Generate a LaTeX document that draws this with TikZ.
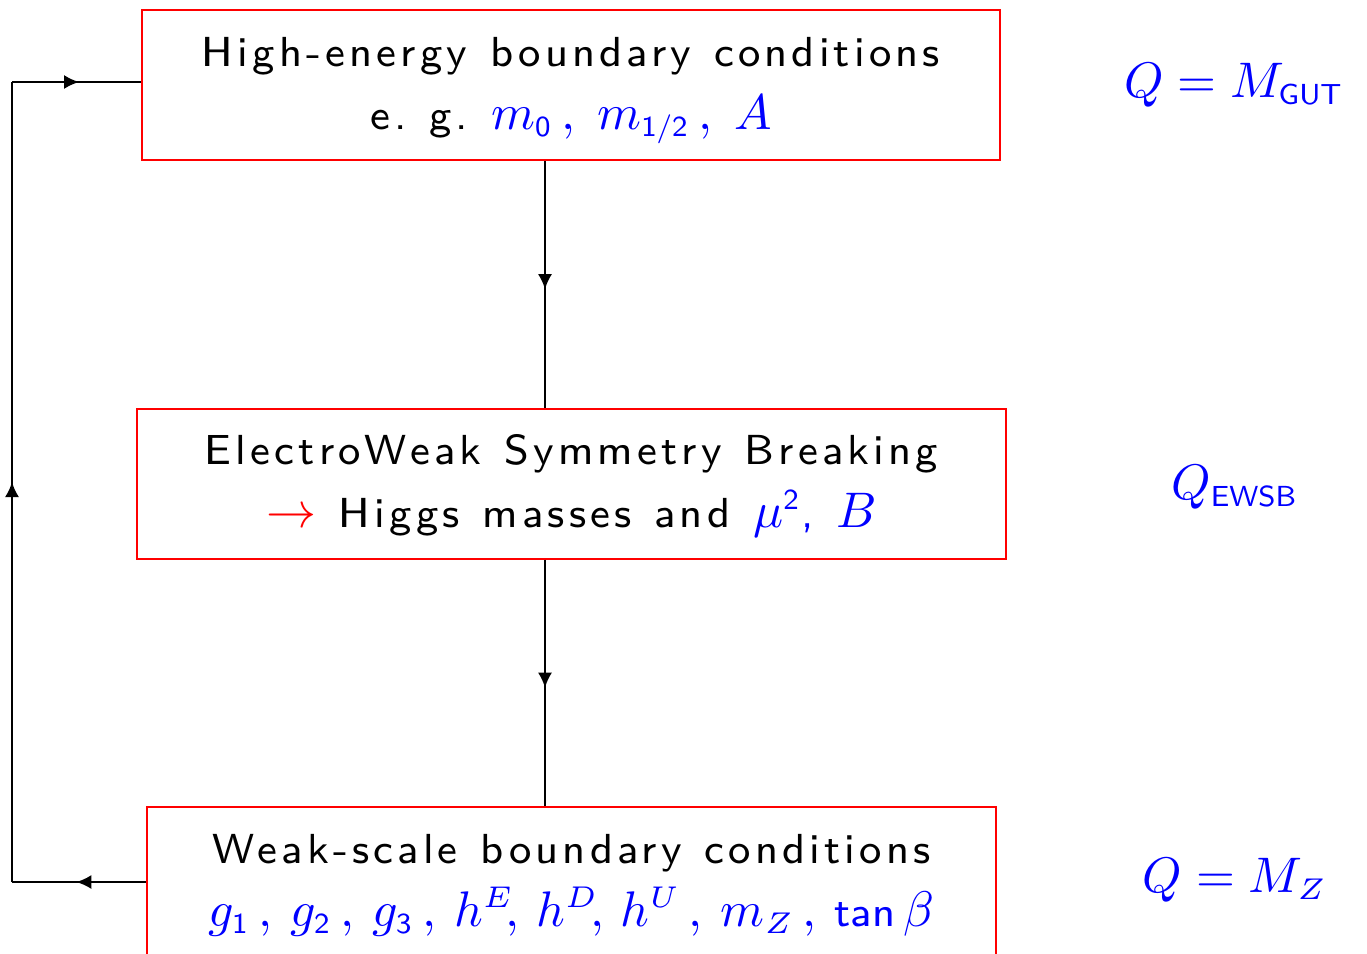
\documentclass[tikz,border=0pt]{standalone}
\usepackage{amsmath}
\usepackage{fontspec}
\usetikzlibrary{decorations.markings,arrows.meta}
\newfontfamily\boxfont{lmsans8-regular.otf}[LetterSpace=10,WordSpace=1.2]
\newfontfamily\subsf{lmsans8-regular.otf}
\newcommand\sfsub[1]{\text{\subsf #1}}
\newcommand\msp{\mskip 5mu}
\newcommand\nsp{\mskip 3.5mu}
\DeclareMathSizes{8.4}{10}{5.8}{5}
\newcommand\boxtxt[1]{\scalebox{2.5}{\fontsize{8.4}{12.6}\selectfont\boxfont\setlength{\tabcolsep}{0pt}\begin{tabular}{c}#1\end{tabular}}}
\newcommand\lbltxt[1]{\scalebox{2.5}{\fontsize{8.4}{10}\selectfont #1}}
\begin{document}
\begin{tikzpicture}[x=0.5pt,y=-0.5pt,
  box/.style={draw=red,line width=1pt,minimum width=#1,minimum height=75pt,inner sep=0pt},
  lbl/.style={text=blue,inner sep=0pt},
  conn/.style={line width=1pt},
  midarrow/.style={postaction={decorate},decoration={markings,mark=at position #1 with {\arrow{Latex[length=7.5pt,width=7pt]}}}}
]
\useasboundingbox (0,0) rectangle (1367,954);
\node[box=429pt] (top) at (571,85) {\boxtxt{High-energy boundary conditions\\ e.\ g.\ \textcolor{blue}{$m_{\sfsub{0}}\,,\msp m_{\sfsub{1/2}}\,,\msp A$}}};
\node[box=434.5pt] (mid) at (571.5,483.5) {\boxtxt{ElectroWeak Symmetry Breaking\\ \textcolor{red}{$\rightarrow$} Higgs masses and \textcolor{blue}{$\mu^{\sfsub{2}}$, $B$}}};
\node[box=424.5pt] (bot) at (571.5,882) {\boxtxt{Weak-scale boundary conditions\\ \textcolor{blue}{$g_{\sfsub{1}}\,,\nsp g_{\sfsub{2}}\,,\nsp g_{\sfsub{3}}\,,\nsp h^E\!,\, h^D\!,\, h^U\,,\nsp m_Z\,,\nsp \text{\subsf tan}\,\beta$}}};
\node[lbl] (q1) at (1234,85) {\lbltxt{$Q=M_{\sfsub{GUT}}$}};
\node[lbl] (q2) at (1235,487) {\lbltxt{$Q_{\sfsub{EWSB}}$}};
\node[lbl] (q3) at (1235,880) {\lbltxt{$Q=M_Z$}};
\coordinate (tl) at (12,82);
\coordinate (bl) at (12,882);
\coordinate (cx) at (545,0);
\draw[conn,midarrow=0.52] (top.south -| cx) -- (mid.north -| cx);
\draw[conn,midarrow=0.52] (mid.south -| cx) -- (bot.north -| cx);
\draw[conn,midarrow=0.52] (bot.west) -- (bl);
\draw[conn,midarrow=0.5,line join=miter] (bl) -- (tl);
\draw[conn,midarrow=0.52] (tl) -- ([yshift=1.5pt]top.west);
\end{tikzpicture}
\end{document}
